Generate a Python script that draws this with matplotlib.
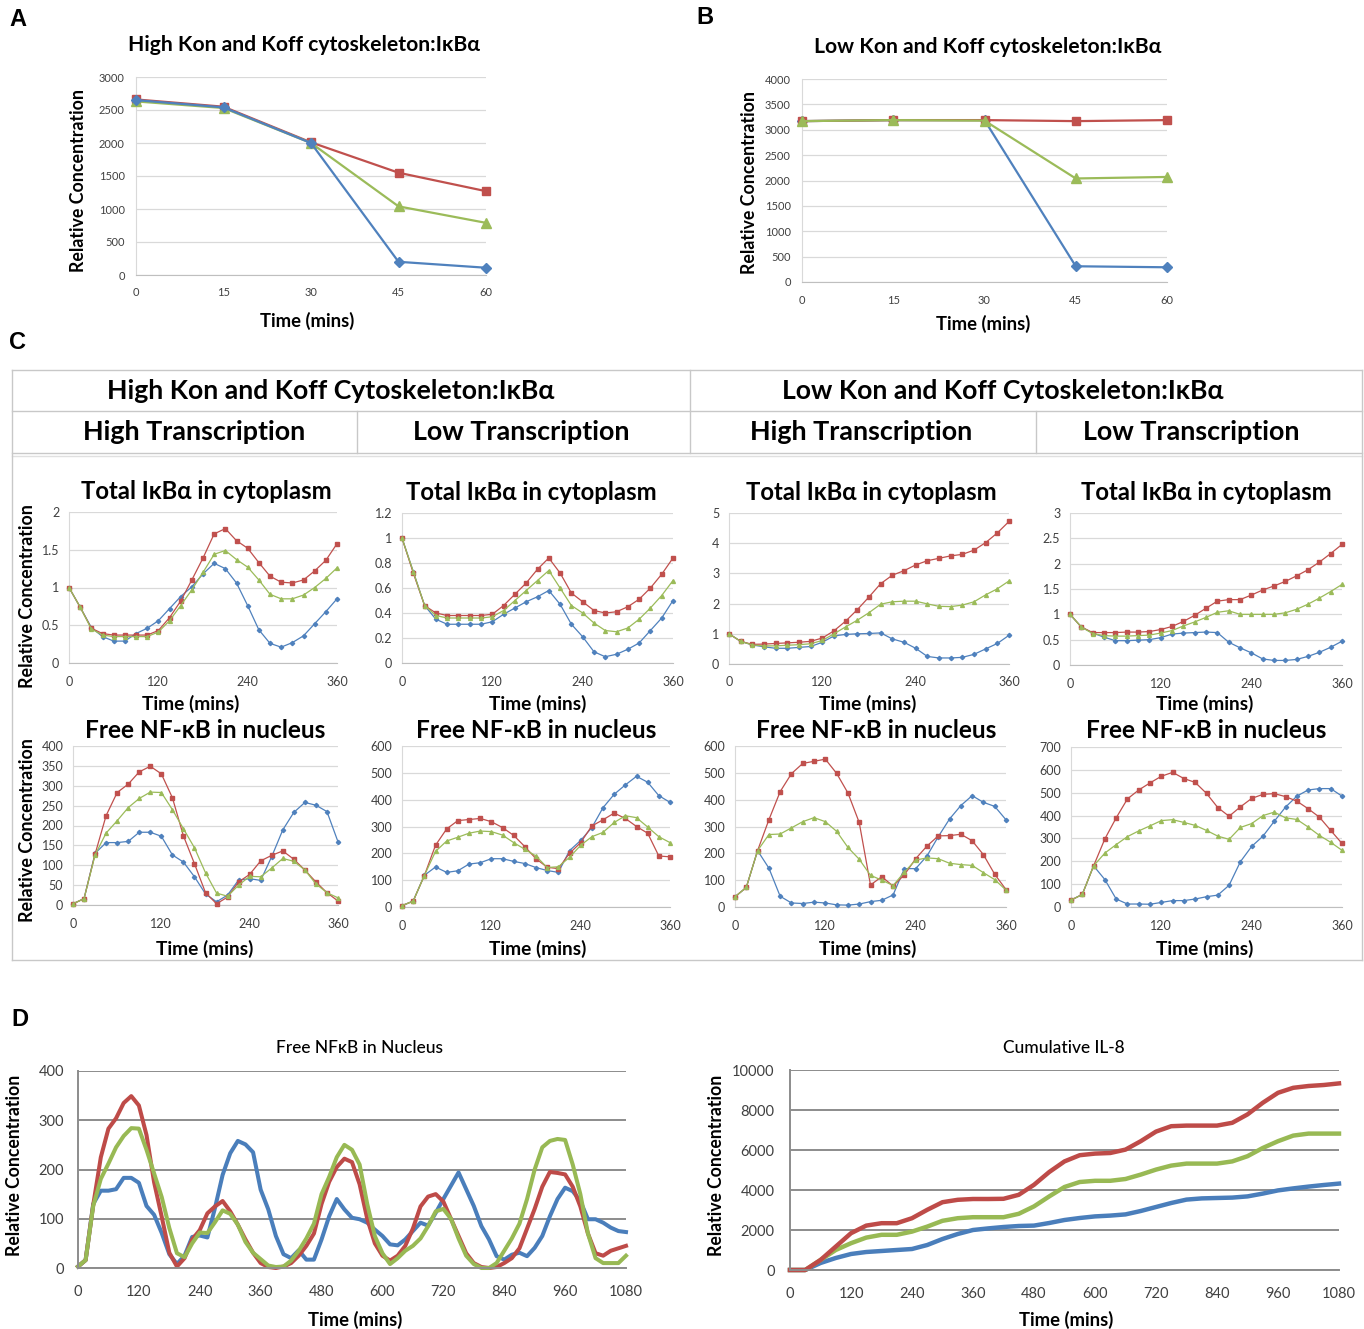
import matplotlib
matplotlib.use('Agg')
import matplotlib.pyplot as plt
from matplotlib.lines import Line2D
from matplotlib.ticker import FuncFormatter

plt.rcParams['font.family'] = ['Lato', 'DejaVu Sans']

BLUE, RED, GREEN = '#4f81bd', '#c0504d', '#9bbb59'
D_BLUE, D_RED, D_GREEN = '#4a7ebb', '#be4b48', '#98b954'
NARROW = ['Liberation Sans Narrow', 'Lato', 'DejaVu Sans']

# ---- panel A / B : first hour ----
t_ab = [0, 15, 30, 45, 60]
a_blue = [2650, 2540, 2000, 200, 110]
a_red = [2660, 2550, 2010, 1550, 1270]
a_green = [2630, 2530, 2000, 1040, 790]
b_blue = [3170, 3190, 3190, 310, 290]
b_red = [3170, 3190, 3190, 3170, 3190]
b_green = [3170, 3190, 3180, 2040, 2070]

# ---- panel C : 15 min steps over 6 h ----
t_c = list(range(0, 361, 15))
c1_blue = [1.0, 0.74, 0.47, 0.35, 0.29, 0.29, 0.39, 0.46, 0.56, 0.72, 0.88, 1.01, 1.18,
           1.32, 1.25, 1.06, 0.76, 0.44, 0.26, 0.21, 0.27, 0.36, 0.52, 0.68, 0.85]
c1_red = [1.0, 0.74, 0.46, 0.39, 0.37, 0.37, 0.37, 0.37, 0.43, 0.60, 0.82, 1.10, 1.39,
          1.71, 1.78, 1.62, 1.52, 1.33, 1.15, 1.07, 1.06, 1.10, 1.22, 1.36, 1.58]
c1_green = [1.0, 0.74, 0.45, 0.37, 0.35, 0.35, 0.35, 0.35, 0.41, 0.56, 0.76, 0.97, 1.20,
            1.44, 1.49, 1.37, 1.27, 1.10, 0.91, 0.85, 0.85, 0.90, 1.00, 1.12, 1.26]
c2_blue = [1.0, 0.73, 0.46, 0.35, 0.31, 0.31, 0.31, 0.31, 0.33, 0.39, 0.44, 0.49, 0.53,
           0.58, 0.47, 0.31, 0.21, 0.09, 0.05, 0.07, 0.11, 0.16, 0.26, 0.36, 0.50]
c2_red = [1.0, 0.72, 0.46, 0.40, 0.38, 0.38, 0.38, 0.38, 0.39, 0.46, 0.55, 0.64, 0.75,
          0.84, 0.72, 0.56, 0.49, 0.42, 0.40, 0.41, 0.45, 0.51, 0.60, 0.71, 0.84]
c2_green = [1.0, 0.73, 0.46, 0.38, 0.36, 0.36, 0.36, 0.36, 0.37, 0.42, 0.50, 0.58, 0.66,
            0.74, 0.60, 0.46, 0.40, 0.32, 0.26, 0.25, 0.28, 0.35, 0.44, 0.54, 0.66]
c3_blue = [1.0, 0.75, 0.63, 0.57, 0.52, 0.52, 0.55, 0.58, 0.72, 0.93, 0.98, 1.0, 1.01,
           1.03, 0.83, 0.72, 0.52, 0.25, 0.20, 0.20, 0.22, 0.32, 0.50, 0.68, 0.95]
c3_red = [1.0, 0.75, 0.65, 0.66, 0.68, 0.70, 0.72, 0.75, 0.86, 1.10, 1.42, 1.80, 2.22,
          2.66, 2.94, 3.09, 3.28, 3.42, 3.50, 3.58, 3.63, 3.77, 4.02, 4.34, 4.72]
c3_green = [1.0, 0.75, 0.63, 0.60, 0.60, 0.62, 0.64, 0.67, 0.78, 1.0, 1.23, 1.45, 1.70,
            1.98, 2.06, 2.08, 2.08, 1.99, 1.91, 1.90, 1.95, 2.06, 2.29, 2.49, 2.75]
c4_blue = [1.0, 0.75, 0.63, 0.55, 0.48, 0.48, 0.49, 0.50, 0.54, 0.61, 0.63, 0.64, 0.65,
           0.64, 0.45, 0.34, 0.24, 0.12, 0.09, 0.09, 0.11, 0.17, 0.25, 0.35, 0.47]
c4_red = [1.0, 0.75, 0.64, 0.64, 0.64, 0.65, 0.65, 0.66, 0.70, 0.76, 0.86, 0.98, 1.12,
          1.26, 1.29, 1.29, 1.38, 1.48, 1.56, 1.65, 1.76, 1.88, 2.03, 2.20, 2.38]
c4_green = [1.0, 0.75, 0.62, 0.58, 0.57, 0.57, 0.58, 0.59, 0.63, 0.68, 0.77, 0.85, 0.94,
            1.04, 1.07, 1.0, 1.0, 1.0, 1.0, 1.03, 1.10, 1.20, 1.32, 1.45, 1.59]
c5_blue = [3, 16, 130, 157, 157, 160, 183, 183, 173, 126, 108, 71, 28, 8, 25, 63, 66, 62,
           122, 189, 233, 258, 251, 235, 159]
c5_red = [3, 16, 128, 225, 283, 304, 335, 349, 330, 270, 174, 104, 31, 3, 20, 58, 77, 111,
          125, 136, 115, 88, 58, 31, 10]
c5_green = [3, 16, 126, 181, 212, 245, 268, 284, 283, 240, 192, 144, 81, 30, 22, 50, 72, 71,
            93, 117, 110, 88, 53, 31, 18]
c6_blue = [5, 22, 118, 149, 129, 135, 160, 165, 180, 180, 170, 162, 147, 136, 129, 210, 248,
           296, 370, 420, 455, 487, 465, 415, 390]
c6_red = [5, 22, 117, 230, 291, 322, 326, 330, 318, 296, 267, 225, 180, 148, 143, 200, 240,
          302, 325, 350, 330, 300, 275, 190, 187]
c6_green = [5, 22, 117, 207, 246, 260, 275, 283, 281, 268, 240, 215, 190, 147, 150, 185, 230,
            262, 278, 315, 340, 333, 298, 262, 240]
c7_blue = [38, 73, 210, 145, 40, 15, 13, 18, 15, 8, 7, 11, 20, 25, 45, 143, 143, 190, 262,
           328, 378, 415, 390, 375, 325]
c7_red = [38, 73, 210, 325, 430, 497, 535, 543, 551, 498, 425, 315, 82, 113, 78, 120, 180,
          227, 265, 266, 271, 247, 195, 122, 65]
c7_green = [38, 73, 210, 270, 272, 295, 318, 333, 318, 282, 222, 178, 118, 100, 80, 130, 175,
            183, 180, 163, 158, 155, 128, 102, 63]
c8_blue = [30, 55, 180, 120, 35, 13, 13, 12, 20, 28, 28, 35, 45, 52, 95, 198, 265, 310, 375,
           437, 485, 512, 518, 518, 485]
c8_red = [30, 55, 180, 298, 390, 473, 512, 543, 572, 589, 562, 545, 497, 435, 397, 438, 475,
          493, 496, 483, 463, 430, 393, 335, 278]
c8_green = [30, 55, 180, 236, 273, 308, 333, 355, 378, 382, 370, 357, 335, 310, 296, 348, 365,
            400, 415, 390, 383, 350, 313, 283, 248]

# ---- panel D : 18 h ----
t_d1 = list(range(0, 1081, 15))
d1_blue = c5_blue + [119, 65, 28, 20, 36, 17, 17, 58, 105, 140, 119, 102, 99, 92, 78, 65,
                     48, 46, 58, 75, 92, 86, 112, 140, 167, 194, 160, 126, 85, 58, 24, 17,
                     27, 31, 24, 41, 65, 105, 140, 163, 156, 136, 99, 99, 92, 82, 75, 73]
d1_red = c5_red + [2, 0, 3, 10, 25, 45, 70, 130, 175, 205, 222, 215, 170, 100, 50, 25, 15,
                   25, 45, 80, 125, 145, 150, 135, 100, 65, 30, 10, 2, 0, 2, 10, 20, 40, 80,
                   120, 165, 195, 193, 190, 165, 125, 70, 30, 25, 35, 40, 45]
d1_green = c5_green + [5, 2, 3, 15, 35, 60, 90, 150, 185, 225, 250, 240, 210, 130, 65, 30,
                       8, 20, 35, 45, 60, 85, 115, 120, 100, 60, 25, 8, 0, 0, 10, 35, 60, 90,
                       140, 200, 245, 258, 262, 260, 210, 150, 70, 20, 10, 10, 10, 25]
t_d2 = list(range(0, 1081, 30))
d2_blue = [0, 0, 350, 600, 800, 900, 950, 1000, 1050, 1250, 1550, 1800, 2000, 2080, 2150,
           2200, 2220, 2350, 2500, 2600, 2680, 2720, 2780, 2950, 3150, 3350, 3520, 3580,
           3600, 3620, 3680, 3820, 3980, 4080, 4170, 4250, 4320]
d2_red = [0, 0, 500, 1170, 1840, 2220, 2340, 2340, 2590, 3010, 3390, 3510, 3550, 3550, 3560,
          3760, 4260, 4900, 5430, 5740, 5820, 5850, 6020, 6440, 6920, 7190, 7220, 7220, 7220,
          7360, 7780, 8360, 8860, 9110, 9200, 9250, 9330]
d2_green = [0, 0, 500, 1000, 1340, 1620, 1760, 1760, 1920, 2170, 2460, 2590, 2640, 2640,
            2640, 2810, 3180, 3680, 4150, 4400, 4460, 4460, 4550, 4770, 5020, 5220, 5320,
            5320, 5320, 5430, 5690, 6100, 6440, 6720, 6820, 6820, 6820]

W, H = 1364, 1329
fig = plt.figure(figsize=(W / 100, H / 100), dpi=100)


def add_ax(x0, x1, ytop, ybot):
    return fig.add_axes([x0 / W, 1 - ybot / H, (x1 - x0) / W, (ybot - ytop) / H])


def put(x, y, s, size, weight='bold', rotation=0, family=None, color='black'):
    kw = {'family': family} if family else {}
    fig.text(x / W, 1 - y / H, s, fontsize=size, fontweight=weight, rotation=rotation,
             ha='center', va='center', color=color, **kw)


def rule(x0, y0, x1, y1, color='#c8c8c8', lw=1.0):
    fig.add_artist(Line2D([x0 / W, x1 / W], [1 - y0 / H, 1 - y1 / H], color=color, lw=lw,
                          transform=fig.transFigure))


def excel_axes(rect, xmax, xticks, ymax, yticks, tsize, xpad, ypad):
    ax = add_ax(*rect)
    ax.set_xlim(0, xmax)
    ax.set_ylim(0, ymax)
    ax.set_xticks(xticks)
    ax.set_yticks(yticks)
    ax.yaxis.set_major_formatter(FuncFormatter(lambda v, p: f'{round(v, 2):g}'))
    ax.grid(axis='y', color='#d9d9d9', lw=0.9)
    ax.set_axisbelow(True)
    for s in ('top', 'right'):
        ax.spines[s].set_visible(False)
    ax.spines['left'].set_color('#d9d9d9')
    ax.spines['bottom'].set_color('#bfbfbf')
    ax.tick_params(length=0, labelsize=tsize, labelcolor='#404040')
    ax.tick_params(axis='x', pad=xpad)
    ax.tick_params(axis='y', pad=ypad)
    ax.patch.set_alpha(0)
    return ax


def draw(ax, t, vals, color, marker, ms, lw):
    ax.plot(t, vals, color=color, marker=marker, ms=ms, lw=lw, clip_on=False, zorder=3)


# ---------------- A ----------------
put(18, 20, 'A', 17, family=['Liberation Sans', 'DejaVu Sans'])
ax = excel_axes((136, 486, 77, 275), 60, t_ab, 3000, range(0, 3001, 500), 8, 9, 8)
draw(ax, t_ab, a_red, RED, 's', 6, 1.6)
draw(ax, t_ab, a_green, GREEN, '^', 6.5, 1.6)
draw(ax, t_ab, a_blue, BLUE, 'D', 5, 1.6)
put(304, 45, 'High Kon and Koff cytoskeleton:IκBα', 15.2)
put(78, 180, 'Relative Concentration', 12.8, rotation=90)
put(307, 321, 'Time (mins)', 13.3)

# ---------------- B ----------------
put(705, 18, 'B', 17, family=['Liberation Sans', 'DejaVu Sans'])
ax = excel_axes((802, 1167, 79, 282), 60, t_ab, 4000, range(0, 4001, 500), 8, 9, 8)
draw(ax, t_ab, b_blue, BLUE, 'D', 5, 1.6)
draw(ax, t_ab, b_red, RED, 's', 6, 1.6)
draw(ax, t_ab, b_green, GREEN, '^', 6.5, 1.6)
put(988, 47, 'Low Kon and Koff cytoskeleton:IκBα', 15.2)
put(750, 182, 'Relative Concentration', 12.8, rotation=90)
put(983, 324, 'Time (mins)', 13.3)

# ---------------- C ----------------
put(18, 343, 'C', 17, family=['Liberation Sans', 'DejaVu Sans'])
rule(12, 370, 1362, 370)
rule(12, 411, 1362, 411)
rule(12, 453, 1362, 453)
rule(12, 456, 1362, 456, color='#e0e0e0')
rule(12, 960, 1362, 960)
rule(12, 370, 12, 960)
rule(1362, 370, 1362, 960)
rule(690, 370, 690, 453)
rule(357, 411, 357, 453)
rule(1036, 411, 1036, 453)
put(331, 391, 'High Kon and Koff Cytoskeleton:IκBα', 19.2)
put(1003, 391, 'Low Kon and Koff Cytoskeleton:IκBα', 19.2)
put(194, 432, 'High Transcription', 19.4)
put(521, 432, 'Low Transcription', 19.4)
put(861, 432, 'High Transcription', 19.4)
put(1191, 432, 'Low Transcription', 19.4)

c_panels = [
    ((69, 337, 512, 663), 2, 0.5, c1_blue, c1_red, c1_green, (206, 491), (191, 704)),
    ((402, 673, 513, 663), 1.2, 0.2, c2_blue, c2_red, c2_green, (531, 492), (538, 704)),
    ((729, 1009, 513, 664), 5, 1, c3_blue, c3_red, c3_green, (871, 492), (868, 704)),
    ((1070, 1342, 513, 665), 3, 0.5, c4_blue, c4_red, c4_green, (1206, 492), (1205, 704)),
    ((73, 338, 746, 905), 400, 50, c5_blue, c5_red, c5_green, (205, 730), (205, 949)),
    ((402, 670, 746, 907), 600, 100, c6_blue, c6_red, c6_green, (536, 730), (538, 949)),
    ((735, 1006, 746, 907), 600, 100, c7_blue, c7_red, c7_green, (876, 730), (868, 949)),
    ((1071, 1342, 747, 907), 700, 100, c8_blue, c8_red, c8_green, (1206, 731), (1205, 949)),
]
for i, (rect, ymax, step, bl, rd, gr, tpos, xpos) in enumerate(c_panels):
    nticks = int(round(ymax / step))
    ax = excel_axes(rect, 360, [0, 120, 240, 360], ymax,
                    [k * step for k in range(nticks + 1)], 9, 9, 7)
    draw(ax, t_c, bl, BLUE, 'D', 2.2, 0.9)
    draw(ax, t_c, rd, RED, 's', 2.4, 0.9)
    draw(ax, t_c, gr, GREEN, '^', 2.8, 0.9)
    if i < 4:
        put(tpos[0], tpos[1], 'Total IκBα in cytoplasm', 17.2)
    else:
        put(tpos[0], tpos[1], 'Free NF-κB in nucleus', 17.6)
    put(xpos[0], xpos[1], 'Time (mins)', 13.8)
put(28, 596, 'Relative Concentration', 12.9, rotation=90)
put(28, 830, 'Relative Concentration', 12.9, rotation=90)


# ---------------- D ----------------
def d_axes(rect, ymax, ystep, xpad, ypad):
    ax = add_ax(*rect)
    ax.set_xlim(0, 1080)
    ax.set_ylim(0, ymax)
    ax.set_xticks(range(0, 1081, 120))
    ax.set_yticks(range(0, ymax + 1, ystep))
    ax.grid(axis='y', color='#8c8c8c', lw=1.4)
    ax.set_axisbelow(True)
    for s in ('top', 'right'):
        ax.spines[s].set_visible(False)
    for s in ('left', 'bottom'):
        ax.spines[s].set_color('#8c8c8c')
        ax.spines[s].set_linewidth(1.4)
    ax.tick_params(length=0, labelsize=10.5, labelcolor='#404040')
    ax.tick_params(axis='x', pad=xpad)
    ax.tick_params(axis='y', pad=ypad)
    for lab in ax.get_xticklabels() + ax.get_yticklabels():
        lab.set_family(NARROW)
    ax.patch.set_alpha(0)
    return ax


put(20, 1020, 'D', 17, family=['Liberation Sans', 'DejaVu Sans'])
ax = d_axes((78, 626, 1071, 1268), 400, 100, 12, 10)
ax.plot(t_d1, d1_blue, color=D_BLUE, lw=2.9, clip_on=False)
ax.plot(t_d1, d1_red, color=D_RED, lw=2.9, clip_on=False)
ax.plot(t_d1, d1_green, color=D_GREEN, lw=2.9, clip_on=False)
put(360, 1048, 'Free NFκB in Nucleus', 12.5, weight='medium', family=NARROW)
put(15, 1165, 'Relative Concentration', 12.7, rotation=90)
put(355, 1320, 'Time (mins)', 13.3, family=NARROW)

ax = d_axes((790, 1339, 1070, 1270), 10000, 2000, 12, 11)
ax.plot(t_d2, d2_blue, color=D_BLUE, lw=3.2, clip_on=False)
ax.plot(t_d2, d2_green, color=D_GREEN, lw=3.2, clip_on=False)
ax.plot(t_d2, d2_red, color=D_RED, lw=3.2, clip_on=False)
put(1064, 1048, 'Cumulative IL-8', 12.5, weight='medium', family=NARROW)
put(716, 1165, 'Relative Concentration', 12.7, rotation=90)
put(1066, 1320, 'Time (mins)', 13.3, family=NARROW)

fig.savefig('out.png', dpi=100)
